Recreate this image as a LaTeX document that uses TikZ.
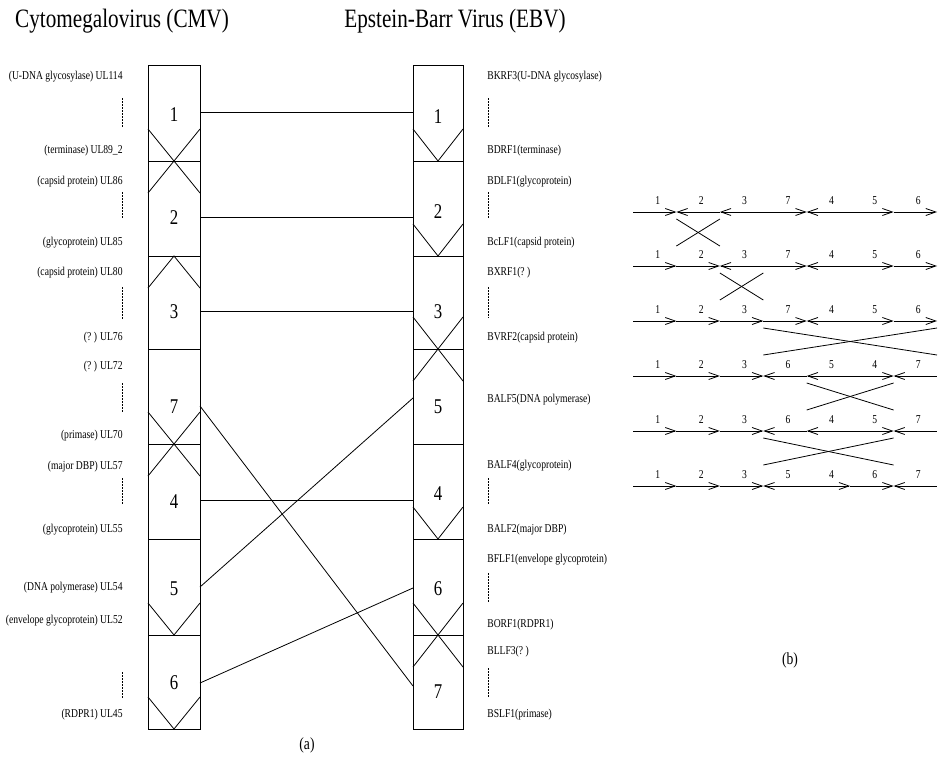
\documentclass[tikz,border=0pt]{standalone}
\usepackage{fontspec}
\setmainfont{Liberation Serif}[FakeStretch=0.8]
\usepackage{tikz}
\usetikzlibrary{arrows.meta}

\tikzset{
  title/.style={font=\fontsize{26.5}{28}\selectfont, inner sep=0pt},
  gene/.style={font=\fontsize{12}{13}\selectfont, inner sep=0pt},
  segnum/.style={font=\fontsize{21}{22}\selectfont, inner sep=0pt},
  caption/.style={font=\fontsize{17}{18}\selectfont, inner sep=0pt},
  dots/.style={dash pattern=on 1.5pt off 1.5pt},
  fwd/.style={-{Straight Barb[length=10pt, width=7pt]}},
  rev/.style={{Straight Barb[length=10pt, width=7pt]}-},
}

\begin{document}
\begin{tikzpicture}[x=1pt, y=-1pt, line width=0.8pt]
  \useasboundingbox (0, 0) rectangle (938, 774);

  \node[title] (cmvtitle) at (122, 21) {Cytomegalovirus (CMV)};
  \node[title] (ebvtitle) at (455, 21) {Epstein-Barr Virus (EBV)};

  % genome columns
  \draw (148, 65) rectangle (200, 729);
  \draw (413, 65) rectangle (463, 729);
  \foreach \y in {161, 256, 349, 444, 539, 635} {
    \draw (148, \y) -- (200, \y);
    \draw (413, \y) -- (463, \y);
  }

  % orientation: V at the end of a forward block, inverted V at the top of a reversed one
  \foreach \y in {161, 444, 635, 729} \draw (148, \y-32) -- (174, \y) -- (200, \y-32);
  \foreach \y in {161, 256, 444} \draw (148, \y+32) -- (174, \y) -- (200, \y+32);
  \foreach \y in {161, 256, 349, 539, 635} \draw (413, \y-32) -- (438, \y) -- (463, \y-32);
  \foreach \y in {349, 635} \draw (413, \y+32) -- (438, \y) -- (463, \y+32);

  % block numbers and link ends
  \foreach \n/\yn/\yl in {1/115/112, 2/218/217, 3/312/311, 7/407/406, 4/502/500, 5/589/587, 6/683/683} {
    \node[segnum] (cmvnum\n) at (174, \yn) {\n};
    \coordinate (cmv\n) at (200, \yl);
  }
  \foreach \n/\yn/\yl in {1/117/112, 2/212/217, 3/312/311, 5/407/398, 4/494/500, 6/589/588, 7/692/686} {
    \node[segnum] (ebvnum\n) at (438, \yn) {\n};
    \coordinate (ebv\n) at (413, \yl);
  }
  \foreach \n in {1, ..., 7} \draw (cmv\n) -- (ebv\n);

  % CMV genes
  \foreach \y/\txt [count=\i] in {77/(U-DNA glycosylase) UL114, 151/(terminase) UL89\_2,
      182/(capsid protein) UL86, 243/(glycoprotein) UL85, 273/(capsid protein) UL80,
      338/(?~) UL76, 367/(?~) UL72, 436/(primase) UL70, 467/(major DBP) UL57,
      530/(glycoprotein) UL55, 588/(DNA polymerase) UL54,
      621/(envelope glycoprotein) UL52, 715/(RDPR1) UL45}
    \node[gene, anchor=east] (cmvgene\i) at (123, \y) {\txt};
  \foreach \a/\b in {98/128, 192/218, 287/320, 383/413, 478/505, 672/698}
    \draw[dots] (122, \a) -- (122, \b);

  % EBV genes
  \foreach \y/\txt [count=\i] in {77/BKRF3(U-DNA glycosylase), 151/BDRF1(terminase),
      182/BDLF1(glycoprotein), 243/BcLF1(capsid protein), 273/BXRF1(?~),
      338/BVRF2(capsid protein), 400/BALF5(DNA polymerase), 466/BALF4(glycoprotein),
      530/BALF2(major DBP), 560/BFLF1(envelope glycoprotein), 625/BORF1(RDPR1),
      652/BLLF3(?~), 715/BSLF1(primase)}
    \node[gene, anchor=west] (ebvgene\i) at (487, \y) {\txt};
  \foreach \a/\b in {98/127, 192/218, 287/318, 478/505, 573/603, 668/698}
    \draw[dots] (488, \a) -- (488, \b);

  \node[caption] (capa) at (307, 745) {(a)};

  % (b): reversal steps
  \foreach \r/\y/\seq in {1/212/{1/fwd,2/rev,3/rev,7/fwd,4/rev,5/fwd,6/fwd},
      2/266/{1/fwd,2/fwd,3/rev,7/fwd,4/rev,5/fwd,6/fwd},
      3/321/{1/fwd,2/fwd,3/fwd,7/fwd,4/rev,5/fwd,6/fwd},
      4/376/{1/fwd,2/fwd,3/fwd,6/rev,5/rev,4/fwd,7/rev},
      5/431/{1/fwd,2/fwd,3/fwd,6/rev,4/rev,5/fwd,7/rev},
      6/486/{1/fwd,2/fwd,3/fwd,5/rev,4/fwd,6/fwd,7/rev}} {
    \foreach \lab/\dir [count=\k] in \seq {
      \draw[\dir] ({633+43.43*(\k-1)}, \y) -- ({633+43.43*\k}, \y);
      \node[gene] (b\r-\k) at ({633+43.43*\k-18.7}, \y-11) {\lab};
    }
  }
  \foreach \a/\b/\y in {676.4/719.9/212, 719.9/763.3/266, 763.3/937/321, 806.7/893.6/376, 763.3/893.6/431} {
    \draw (\a, \y+7) -- (\b, \y+34);
    \draw (\a, \y+34) -- (\b, \y+7);
  }

  \node[caption] (capb) at (790, 660) {(b)};
\end{tikzpicture}
\end{document}
